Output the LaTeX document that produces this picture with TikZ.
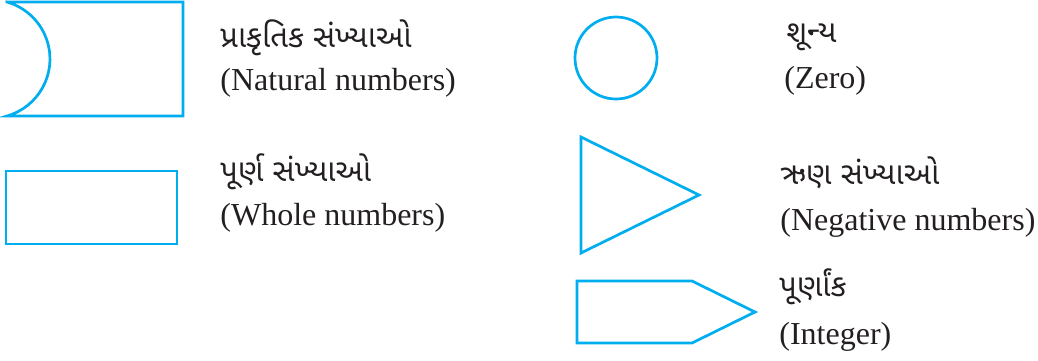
\documentclass[tikz,border=0pt]{standalone}
\usepackage{fontspec}
\setmainfont{Liberation Serif}
\newfontfamily\gujfont[Script=Gujarati]{Noto Sans Gujarati UI}
\usepackage{tikz}
\definecolor{nbcyan}{HTML}{00AEEF}
\definecolor{nbink}{HTML}{231F20}
\tikzset{
  shp/.style={draw=nbcyan,line width=1.35pt,line join=miter},
  guj/.style={anchor=base west,inner sep=0pt,font=\gujfont\fontsize{15.5}{18}\selectfont,text=nbink},
  eng/.style={anchor=base west,inner sep=0pt,font=\fontsize{16}{19}\selectfont,text=nbink},
}

\begin{document}
\begin{tikzpicture}[x=0.5pt,y=-0.5pt]
\useasboundingbox (0,0) rectangle (1038,360);
% legend shapes
\draw[shp] (7,2) -- (183,2) -- (183,116) -- (7,116) arc[start angle=74,end angle=-74,radius=59.3] -- cycle;
\draw[shp] (6,171) rectangle (177,244);
\draw[shp] (616,58) circle[radius=41];
\draw[shp] (581,137) -- (699,195) -- (581,253) -- cycle;
\draw[shp] (577,281) -- (692,281) -- (755,312) -- (692,343) -- (577,343) -- cycle;
% labels
\node[guj] (natg) at (220,47) {પ્રાકૃતિક સંખ્યાઓ};
\node[eng] (nate) at (220,90) {(Natural numbers)};
\node[guj] (wholeg) at (220,181) {પૂર્ણ સંખ્યાઓ};
\node[eng] (wholee) at (220,225) {(Whole numbers)};
\node[guj] (zerog) at (786,42) {શૂન્ય};
\node[eng] (zeroe) at (784,88) {(Zero)};
\node[guj] (negg) at (780,184) {ઋણ સંખ્યાઓ};
\node[eng] (nege) at (780,230) {(Negative numbers)};
\node[guj] (intg) at (779,296) {પૂર્ણાંક};
\node[eng] (inte) at (779,344) {(Integer)};
\end{tikzpicture}
\end{document}
